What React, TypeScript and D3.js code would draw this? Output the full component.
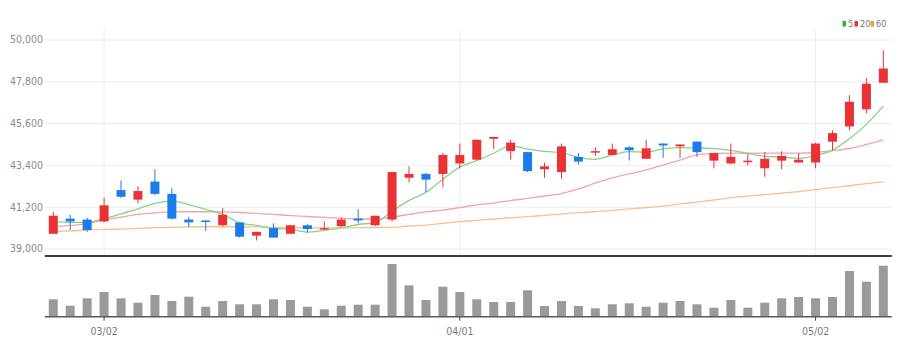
import React from "react";
import * as d3 from "d3";

const dates = [
  "02/24","02/25","02/28","03/02","03/03","03/04","03/07","03/08","03/10","03/11",
  "03/14","03/15","03/16","03/17","03/18","03/21","03/22","03/23","03/24","03/25",
  "03/28","03/29","03/30","03/31","04/01","04/04","04/05","04/06","04/07","04/08",
  "04/11","04/12","04/13","04/14","04/15","04/18","04/19","04/20","04/21","04/22",
  "04/25","04/26","04/27","04/28","04/29","05/02","05/03","05/04","05/06","05/09",
];
const opens = [
  39800,40600,40550,40450,42100,41600,42550,41900,40550,40500,
  40250,40400,39700,40100,39800,40250,40050,40200,40600,40250,
  40550,42750,42950,42950,43500,43700,44800,44150,44100,43200,
  43050,43850,44100,43950,44350,43750,44550,44400,44650,43650,
  43500,43600,43250,43650,43550,43550,44650,45450,46350,47750,
];
const highs = [
  40950,40800,40650,41700,42600,42300,43200,42200,40700,40500,
  41150,40400,39900,40350,40250,40300,40450,40650,41100,40750,
  43050,43350,43000,44050,44550,44750,44900,44750,44100,43550,
  44550,44050,44350,44550,44400,44750,44550,44500,44650,44050,
  44550,44000,44100,44150,44050,44600,45250,47100,48000,49450,
];
const lows = [
  39800,40000,39900,40400,41700,41400,41850,40550,40150,39950,
  40200,39600,39450,39600,39800,39850,40000,40150,40350,40200,
  40450,42500,42000,42250,43250,43700,44250,43700,43050,42750,
  42700,43450,43900,43950,43650,43750,43800,43800,43850,43250,
  43500,43400,42800,43200,43550,43250,44200,45250,46150,47750,
];
const closes = [
  40750,40450,40000,41300,41750,42050,41900,40600,40400,40450,
  40800,39650,39900,39600,40250,40050,40100,40550,40500,40750,
  43050,42950,42650,43950,43950,44750,44900,44600,43100,43350,
  44400,43600,44150,44250,44200,44300,44450,44500,44100,44050,
  43850,43650,43750,43900,43700,44550,45100,46750,47700,48500,
];
const volumes = [
  174000,110000,184000,247000,184000,140000,217000,157000,200000,100000,
  157000,124000,124000,174000,167000,100000,74000,110000,120000,120000,
  527000,314000,167000,300000,247000,174000,147000,147000,264000,107000,
  157000,107000,84000,124000,134000,100000,140000,157000,124000,90000,
  167000,90000,140000,184000,197000,184000,197000,457000,350000,510000,
];
const ma5 = [
  40450,40400,40400,40600,40850,41110,41400,41520,41340,41080,
  40830,40380,40240,40080,40040,39890,39980,40110,40290,40390,
  40990,41560,41980,42670,43310,43650,44040,44430,44260,44140,
  44070,43810,43720,43950,44120,44100,44270,44340,44310,44280,
  44190,44030,43880,43840,43770,43910,44200,44800,45560,46520,
];
const ma20 = [
  40160,40240,40320,40530,40680,40820,40900,40950,40960,40960,
  40950,40920,40870,40820,40760,40710,40660,40620,40580,40580,
  40680,40820,40950,41050,41180,41320,41420,41550,41660,41790,
  41920,42160,42470,42740,42950,43160,43420,43680,43950,44030,
  44050,44050,44050,44050,44050,44080,44180,44290,44500,44740,
];
const ma60 = [
  39910,39950,40000,40030,40050,40090,40120,40140,40160,40170,
  40170,40170,40160,40140,40130,40120,40110,40110,40120,40130,
  40140,40210,40260,40350,40440,40510,40580,40640,40700,40770,
  40840,40910,40960,41030,41110,41180,41260,41370,41470,41580,
  41700,41780,41860,41940,42020,42120,42230,42330,42440,42540,
];
const yTicks = [39000, 41200, 43400, 45600, 47800, 50000];
const xTickLabels = ["03/02", "04/01", "05/02"];
const legendLabels = ["5", "20", "60"];

const UP = "#ea3236";
const DOWN = "#1c7bea";
const MA_COLORS = ["#86d386", "#f5a2ac", "#f8c08a"];
const LEGEND_COLORS = ["#27b52f", "#ee3140", "#f39a36"];
const FONT = "'Liberation Sans Narrow', 'Arial Narrow', 'DejaVu Sans Condensed', sans-serif";

export default function App() {
  const idx = d3.range(dates.length);
  const x = d3.scaleBand<number>().domain(idx).range([44.8, 891.8]).paddingInner(0).paddingOuter(0);
  const cx = (i: number) => (x(i) as number) + x.bandwidth() / 2;
  const y = d3.scaleLinear().domain([39000, 50000]).range([249, 40]);
  const yv = d3.scaleLinear().domain([0, 560000]).range([316.7, 260.7]);
  const left = 44.8, right = 891.8;
  const bodyW = 9;

  const line = (arr: number[]) =>
    d3.line<number>().x((_, i) => cx(i)).y((d) => y(d)).curve(d3.curveMonotoneX)(arr) || "";

  const tickIdx = xTickLabels.map((l) => dates.indexOf(l));
  const legendX = [842.5, 854.5, 870.5];

  return (
    <svg width={910} height={356} style={{ position: "fixed", left: 0, top: 0, background: "#fff" }}>
      {yTicks.map((t) => (
        <g key={t}>
          <line x1={left} x2={right} y1={y(t)} y2={y(t)} stroke="#ececec" strokeWidth={1} />
          <text x={43} y={y(t)} dy="0.32em" textAnchor="end" fontSize={10.5} fill="#8a8a8a" fontFamily={FONT}>
            {d3.format(",")(t)}
          </text>
        </g>
      ))}
      {tickIdx.map((i) => (
        <line key={i} x1={cx(i)} x2={cx(i)} y1={30} y2={255} stroke="#ececec" strokeWidth={1} />
      ))}
      <path d={line(ma60)} fill="none" stroke={MA_COLORS[2]} strokeWidth={1.3} />
      <path d={line(ma20)} fill="none" stroke={MA_COLORS[1]} strokeWidth={1.3} />
      <path d={line(ma5)} fill="none" stroke={MA_COLORS[0]} strokeWidth={1.3} />
      {idx.map((i) => {
        const up = closes[i] >= opens[i];
        const c = up ? UP : DOWN;
        const top = y(Math.max(opens[i], closes[i]));
        const bot = y(Math.min(opens[i], closes[i]));
        const h = Math.max(1.5, bot - top);
        return (
          <g key={i}>
            <line x1={cx(i)} x2={cx(i)} y1={y(highs[i])} y2={y(lows[i])} stroke={c} strokeWidth={1} />
            <rect x={cx(i) - bodyW / 2} y={top} width={bodyW} height={h} fill={c} />
          </g>
        );
      })}
      <line x1={left} x2={right} y1={256} y2={256} stroke="#3c3c3c" strokeWidth={2} />
      {idx.map((i) => (
        <rect key={i} x={cx(i) - 4.5} y={yv(volumes[i])} width={9} height={yv(0) - yv(volumes[i])} fill="#9a9a9a" />
      ))}
      <line x1={left} x2={right} y1={yv(0)} y2={yv(0)} stroke="#5a5a5a" strokeWidth={1.5} />
      {tickIdx.map((i, k) => (
        <g key={i}>
          <line x1={cx(i)} x2={cx(i)} y1={yv(0)} y2={yv(0) + 4} stroke="#444" strokeWidth={1} />
          <text x={cx(i)} y={332} dy="0.32em" textAnchor="middle" fontSize={10.5} fill="#7a7a7a" fontFamily={FONT}>
            {xTickLabels[k]}
          </text>
        </g>
      ))}
      {legendLabels.map((l, k) => (
        <g key={l}>
          <rect x={legendX[k]} y={21} width={3.5} height={5.5} fill={LEGEND_COLORS[k]} />
          <text x={legendX[k] + 5.5} y={24} dy="0.35em" fontSize={9} fill="#777" fontFamily={FONT}>
            {l}
          </text>
        </g>
      ))}
    </svg>
  );
}
